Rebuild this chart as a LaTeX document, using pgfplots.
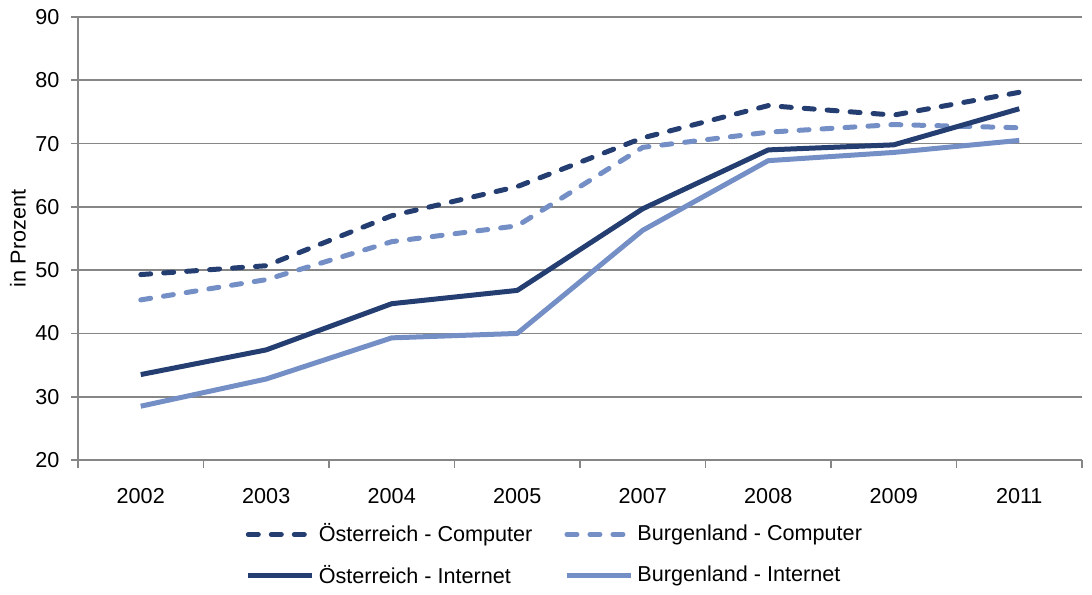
\documentclass[border=0pt]{standalone}
\usepackage{pgfplots}
\pgfplotsset{compat=1.18}
\usepackage{fontspec}
\setmainfont{Liberation Sans}
\definecolor{dunkel}{RGB}{37,62,114}
\definecolor{hell}{RGB}{116,143,198}
\definecolor{gitter}{RGB}{134,134,134}
\begin{document}
\fontsize{10.8}{13}\selectfont
\begin{tikzpicture}
\begin{axis}[
  scale only axis, width=502pt, height=221.5pt,
  xmin=-0.5, xmax=7.5, ymin=20, ymax=90,
  axis x line*=bottom, axis y line*=left,
  axis line style={gitter, line width=0.9pt},
  xtick={0,...,7},
  xticklabels={2002,2003,2004,2005,2007,2008,2009,2011},
  minor xtick={-0.5,0.5,...,7.5},
  major x tick style={draw=none},
  minor tick length=4pt, major tick length=3.5pt,
  tick align=outside,
  tick style={gitter, line width=0.9pt},
  ytick={20,30,...,90},
  ymajorgrids, grid style={gitter, line width=0.9pt},
  xticklabel style={yshift=-7pt},
  yticklabel style={xshift=-2pt},
  /pgf/number format/assume math mode=true,
  ticklabel style={font=\fontsize{10.8}{13}\selectfont},
  ylabel={in Prozent},
  ylabel style={font=\fontsize{10.8}{13}\selectfont},
  every axis y label/.style={at={(rel axis cs:0,0.5)}, rotate=90, anchor=center, yshift=30pt},
  legend columns=2,
  legend style={draw=none, fill=none, at={(0.476,-0.125)}, anchor=north,
    font=\fontsize{10.8}{13}\selectfont, /tikz/every even column/.append style={column sep=14pt},
    row sep=6pt},
  legend cell align=left,
  legend image code/.code={\draw[#1] (0pt,0pt) -- (32pt,0pt);},
  every axis plot/.append style={line width=2.5pt, line join=round},
  clip=false,
]
\addplot[dunkel, dash pattern=on 5pt off 6.5pt, line cap=round] coordinates
{(0,49.3) (1,50.7) (2,58.6) (3,63.2) (4,70.9) (5,76.0) (6,74.5) (7,78.1)};
\addlegendentry{Österreich - Computer}
\addplot[hell, dash pattern=on 5pt off 6.5pt, line cap=round] coordinates
{(0,45.3) (1,48.5) (2,54.5) (3,57.0) (4,69.4) (5,71.8) (6,73.0) (7,72.5)};
\addlegendentry{Burgenland - Computer}
\addplot[dunkel] coordinates
{(0,33.5) (1,37.4) (2,44.7) (3,46.8) (4,59.7) (5,69.0) (6,69.8) (7,75.5)};
\addlegendentry{Österreich - Internet}
\addplot[hell] coordinates
{(0,28.5) (1,32.8) (2,39.3) (3,40.0) (4,56.3) (5,67.3) (6,68.6) (7,70.5)};
\addlegendentry{Burgenland - Internet}
\coordinate (bl) at (rel axis cs:0,0);
\coordinate (tr) at (rel axis cs:1,1);
\end{axis}
\path ([xshift=-39pt,yshift=-64.5pt]bl) rectangle ([xshift=5pt,yshift=8.5pt]tr);
\end{tikzpicture}
\end{document}
